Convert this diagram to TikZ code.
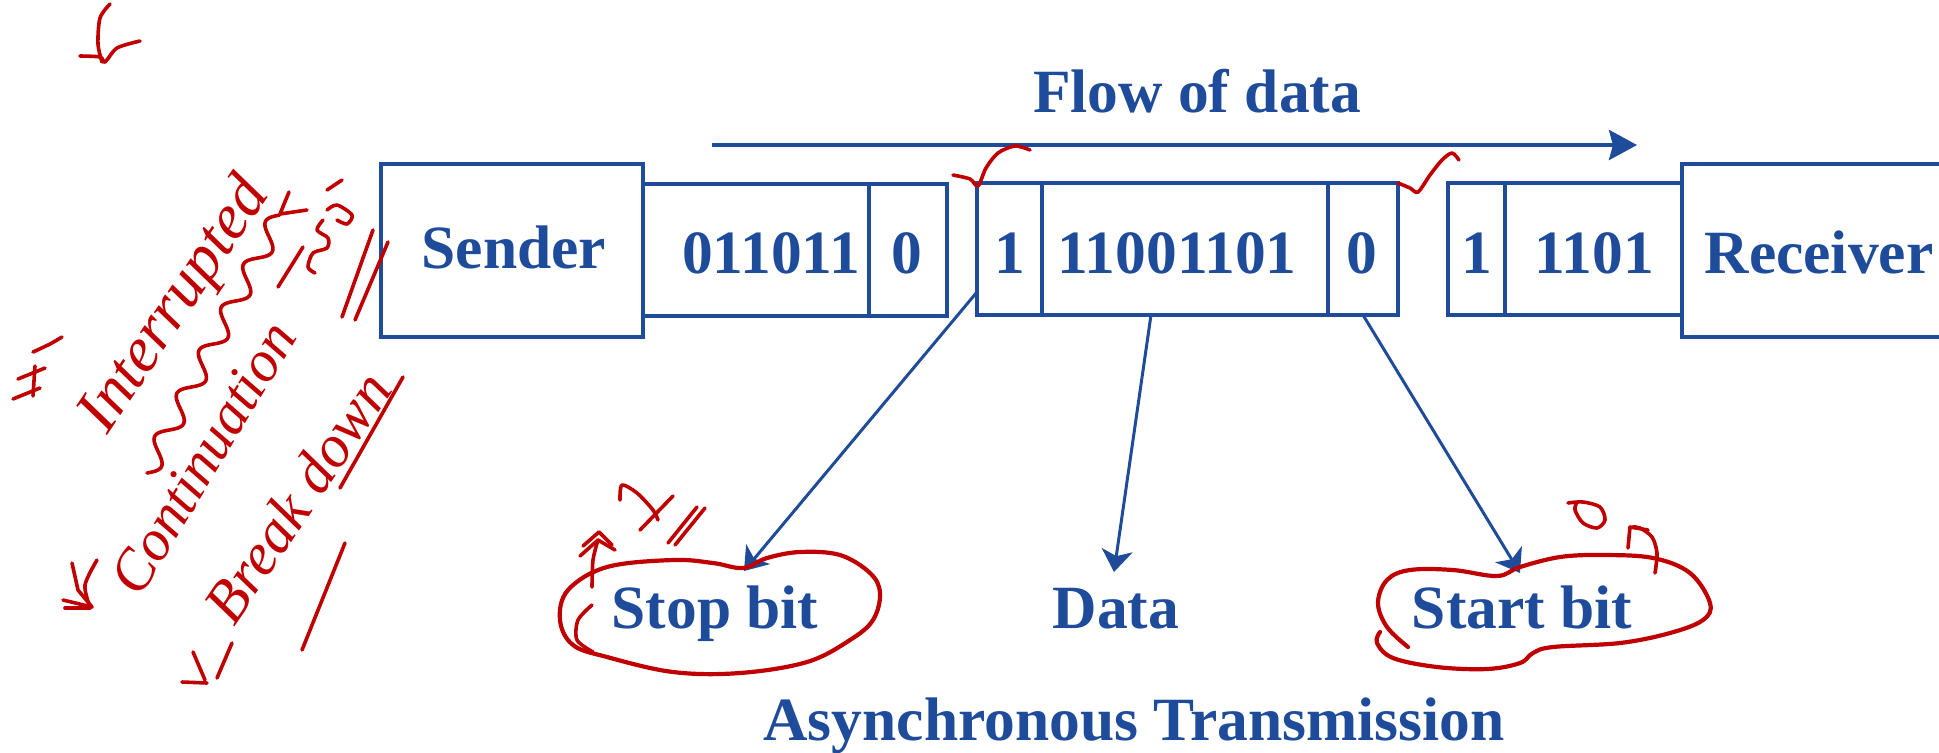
\documentclass[tikz,border=0pt]{standalone}
\usepackage{fontspec}
\setmainfont{Liberation Serif}
\usetikzlibrary{arrows.meta,calc}
\definecolor{dblue}{RGB}{31,76,154}
\definecolor{ink}{RGB}{192,0,0}
\tikzset{
  box/.style={draw=dblue, line width=2pt, inner sep=0pt, outer sep=0pt, minimum height=66pt},
  bigbox/.style={draw=dblue, line width=2pt, inner sep=0pt, outer sep=0pt, minimum width=131pt, minimum height=86.5pt},
  lbl/.style={text=dblue, font=\fontsize{30.75}{36}\selectfont\bfseries, anchor=base, inner sep=0pt},
  conn/.style={draw=dblue, line width=1.5pt, -{Stealth[length=11pt,width=15.5pt,inset=3pt]}},
  flow/.style={draw=dblue, line width=2pt, -{Stealth[length=14pt,width=15pt,inset=2pt]}},
  pen/.style={draw=ink, line width=1.8pt, line cap=round, line join=round},
  loop/.style={draw=ink, line width=2.1pt, line cap=round, line join=round},
  hand/.style={text=ink, font=\itshape, inner sep=0pt},
}
\begin{document}
\begin{tikzpicture}[x=0.5pt,y=-0.5pt]
\useasboundingbox (0,0) rectangle (1939,752);
\clip (0,0) rectangle (1939,752);

% ---------- boxes ----------
\node[bigbox] (sender) at (512,250.5) {};
\node[box, minimum width=113pt] (d1) at (756,250) {};
\node[box, minimum width=39pt] (z1) at (908,249.5) {};
\node[box, minimum width=32.5pt] (b1) at (1009.5,249) {};
\node[box, minimum width=143pt] (data) at (1185,249) {};
\node[box, minimum width=35pt] (z2) at (1363,249) {};
\node[box, minimum width=28.5pt] (b2) at (1476.5,249) {};
\node[box, minimum width=88.5pt] (d3) at (1593.5,249) {};
\node[bigbox] (receiver) at (1813,250.5) {};

% ---------- texts ----------
\node[lbl] (tflow) at (1197,112) {Flow of data};
\node[lbl] (tsender) at (514,268) {Sender};
\node[lbl] (td1) at (771,273) {011011};
\node[lbl] (tz1) at (907,273) {0};
\node[lbl] (tb1) at (1010,273) {1};
\node[lbl] (tdata) at (1177,273) {11001101};
\node[lbl] (tz2) at (1362,273) {0};
\node[lbl] (tb2) at (1477,273) {1};
\node[lbl] (td3) at (1594,273) {1101};
\node[lbl] (treceiver) at (1819,273) {Receiver};
\node[lbl] (stop) at (715,628) {Stop bit};
\node[lbl] (dlabel) at (1116,628) {Data};
\node[lbl] (start) at (1522,628) {Start bit};
\node[lbl] (title) at (1134,740) {Asynchronous Transmission};

% ---------- connectors ----------
\coordinate (fs) at (712,145);
\coordinate (fe) at (1637,145);
\draw[flow] (fs) -- (fe);
\coordinate (stoptip) at (744,571);
\coordinate (datatip) at (1114,572);
\coordinate (starttip) at (1520,573);
\draw[conn] ($(b1.south west)+(0,-23)$) -- (stoptip);
\draw[conn] ($(data.south)+(-34,0)$) -- (datatip);
\draw[conn] (z2.south) -- (starttip);

% ---------- red ink ----------
% ticks
\draw[pen] plot[smooth] coordinates {(953,175) (970,179) (978,186) (986,168) (998,153) (1015,146) (1030,150)};
\draw[pen] plot[smooth] coordinates {(1398,183) (1410,188) (1418,192) (1430,175) (1442,160) (1452,153) (1459,160)};
% loop round Stop bit
\draw[loop] plot[smooth cycle, tension=0.6] coordinates {(568,590) (607,567) (673,560) (713,563) (743,568) (767,558) (800,552) (840,555) (870,573) (880,593) (873,620) (850,640) (807,662) (740,673) (673,672) (607,657) (573,645) (560,620)};
\draw[pen] plot[smooth] coordinates {(592,605) (578,620) (577,640) (593,652)};
% marks above Stop bit
\draw[pen] plot[smooth] coordinates {(620,500) (622,485) (637,493) (653,510) (658,520)};
\draw[pen] (640,530) -- (673,496);
\draw[pen] (668,543) -- (697,507);
\draw[pen] (675,545) -- (705,508);
\draw[pen] plot[smooth] coordinates {(592,587) (593,560) (598,540)};
\draw[pen] (580,556) -- (598,540) -- (615,550);
\draw[pen] (583,546) -- (599,532) -- (612,545);
% loop round Start bit
\draw[loop] plot[smooth, tension=0.6] coordinates {(1408,647) (1387,627) (1378,603) (1387,580) (1410,570) (1453,570) (1497,576) (1520,567) (1560,557) (1603,555) (1653,558) (1690,573) (1710,603) (1703,620) (1670,633) (1620,643) (1553,647) (1533,653) (1520,663) (1487,669) (1437,667) (1393,658) (1377,643) (1380,632)};
% marks above Start bit
\draw[pen] plot[smooth] coordinates {(1568,503) (1583,502) (1600,507) (1605,520) (1597,528) (1583,523) (1575,510) (1577,502)};
\draw[pen] plot[smooth] coordinates {(1655,573) (1657,553) (1652,537) (1640,528) (1633,527)};
\draw[pen] (1628,548) -- (1630,527) -- (1648,530);

% left margin notes
\draw[pen] plot[smooth] coordinates {(110,4) (100,18) (98,44) (102,62)};
\draw[pen] plot[smooth] coordinates {(80,56) (100,57) (105,62) (117,48) (140,41)};
\draw[pen] (13,399) -- (40,388);
\draw[pen] (18,379) -- (45,368);
\draw[pen] (35,366) -- (33,396);
\draw[pen] plot[smooth] coordinates {(33,352) (50,344) (62,337)};
\draw[pen] (72,563) -- (78,590) -- (92,607);
\draw[pen] plot[smooth] coordinates {(97,560) (85,585) (90,607)};
\draw[pen] (63,600) -- (92,607);
\draw[pen] (65,608) -- (90,608);
\draw[pen] (193,652) -- (205,680);
\draw[pen] (182,682) -- (207,683);
\draw[pen] (217,678) -- (232,643);
\draw[pen] (302,650) -- (345,543);
\draw[pen] (340,488) -- (403,377);
\draw[pen] (342,317) -- (373,230);
\draw[pen] (355,320) -- (388,242);
\draw[pen] (278,287) -- (303,247);
\draw[pen] plot[smooth] coordinates {(315,273) (308,267) (313,253) (327,248) (328,238) (317,230) (323,220)};
\draw[pen] plot[smooth] coordinates {(327,210) (337,205) (352,215) (347,224) (337,220)};
\draw[pen] (327,190) -- (342,180);
\draw[pen] plot[domain=0:1, samples=140, smooth] ({147+133*\x + 10*sin(6*360*\x)*0.889}, {473-258*\x + 10*sin(6*360*\x)*0.458});
\draw[pen] (289,192) -- (280,214) -- (307,210);

\node[hand, font=\fontsize{32}{36}\selectfont\itshape, rotate=56] (w1) at (176,306) {Interrupted};
\node[hand, font=\fontsize{29}{34}\selectfont\itshape, rotate=59] (w2) at (203,458) {Continuation};
\node[hand, font=\fontsize{30}{34}\selectfont\itshape, rotate=56] (w3) at (297,497) {Break down};
\end{tikzpicture}
\end{document}
